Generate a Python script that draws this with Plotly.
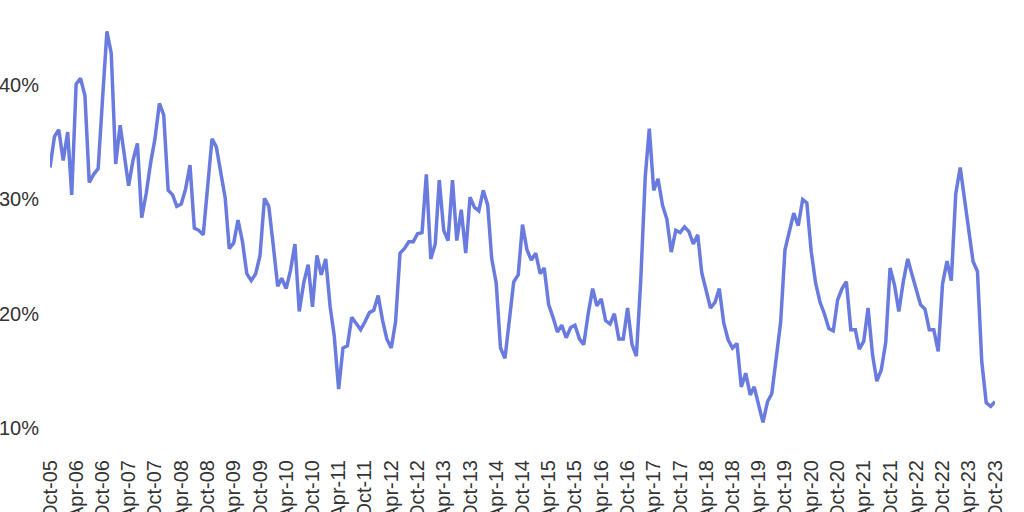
import pandas as pd
import plotly.graph_objects as go

# Monatswerte in Prozent, Okt 2005 bis Okt 2023
start_month = "2005-10-01"

vals_2005_2008 = [32.8, 35.5, 36.1, 33.4, 35.9, 30.4, 40.1, 40.6, 39.1, 31.5, 32.2, 32.7,
                  38.7, 44.7, 42.8, 33.1, 36.5, 34.0, 31.2, 33.4, 34.9, 28.4, 30.5, 33.2,
                  35.3, 38.4, 37.4, 30.8, 30.4, 29.4, 29.6, 30.9, 33.0, 27.5, 27.3, 26.9]
vals_2008_2011 = [31.0, 35.3, 34.6, 32.4, 30.1, 25.7, 26.2, 28.2, 26.3, 23.5, 22.9, 23.5,
                  25.1, 30.1, 29.4, 26.0, 22.4, 23.1, 22.2, 23.8, 26.1, 20.2, 22.7, 24.3,
                  20.6, 25.1, 23.4, 24.8, 20.6, 18.1, 13.4, 17.0, 17.2, 19.7, 19.1, 18.6]
vals_2011_2014 = [19.3, 20.1, 20.3, 21.6, 19.4, 17.8, 17.0, 19.3, 25.3, 25.7, 26.3, 26.3,
                  27.0, 27.1, 32.2, 24.8, 26.1, 31.7, 27.3, 26.4, 31.7, 26.4, 29.1, 25.3,
                  30.2, 29.3, 29.0, 30.8, 29.5, 24.8, 22.7, 17.0, 16.1, 19.4, 22.8, 23.4]
vals_2014_2017 = [27.8, 25.6, 24.7, 25.3, 23.5, 24.0, 20.8, 19.7, 18.4, 19.0, 17.9, 18.8,
                  19.0, 17.8, 17.3, 20.0, 22.2, 20.7, 21.3, 19.4, 19.1, 20.0, 17.8, 17.8,
                  20.5, 17.3, 16.3, 23.0, 32.0, 36.2, 30.8, 31.8, 29.5, 28.3, 25.4, 27.3]
vals_2017_2020 = [27.1, 27.6, 27.2, 26.1, 26.9, 23.6, 22.1, 20.5, 21.0, 22.2, 19.2, 17.7,
                  17.0, 17.4, 13.6, 14.8, 12.9, 13.6, 12.0, 10.5, 12.3, 13.0, 16.1, 19.3,
                  25.6, 27.2, 28.8, 27.7, 30.0, 29.7, 25.4, 22.7, 21.0, 20.0, 18.7, 18.5]
vals_2020_2023 = [21.2, 22.2, 22.8, 18.6, 18.6, 16.9, 17.6, 20.5, 16.4, 14.1, 15.1, 17.5,
                  24.0, 22.5, 20.2, 22.8, 24.8, 23.5, 22.1, 20.8, 20.4, 18.6, 18.6, 16.7,
                  22.6, 24.6, 22.9, 30.5, 32.8, 30.2, 27.5, 24.6, 23.7, 15.8, 12.2, 11.9,
                  12.3]

y_ticks = [10, 20, 30, 40]
y_tick_labels = ["10%", "20%", "30%", "40%"]

values = (vals_2005_2008 + vals_2008_2011 + vals_2011_2014
          + vals_2014_2017 + vals_2017_2020 + vals_2020_2023)
months = pd.date_range(start_month, periods=len(values), freq="MS")

fig = go.Figure(go.Scatter(
    x=months, y=values, mode="lines",
    line=dict(color="#6A7BDF", width=3.5),
))

tick_font = dict(family="Liberation Sans, Arial, sans-serif", size=20, color="#333333")

fig.update_layout(
    width=1024, height=512,
    margin=dict(l=50, r=29, t=20, b=66),
    paper_bgcolor="white", plot_bgcolor="white",
    showlegend=False,
    xaxis=dict(
        range=[months[0], months[-1]],
        tickformat="%b-%y", dtick="M6", tick0=start_month,
        tickangle=-90, tickfont=tick_font,
        showgrid=False, zeroline=False, showline=False,
        automargin=False, ticklabelstandoff=9,
    ),
    yaxis=dict(
        range=[8.43, 45.7],
        tickmode="array", tickvals=y_ticks, ticktext=y_tick_labels,
        tickfont=tick_font,
        showgrid=False, zeroline=False, showline=False,
        automargin=False, ticklabelstandoff=10,
    ),
)

# Seitenrand entfernen, damit das Diagramm genau im Fenster sitzt
fig.write_html(
    "out.html",
    config={"displayModeBar": False},
    post_script="document.body.style.margin='0';document.body.style.overflow='hidden';",
)
